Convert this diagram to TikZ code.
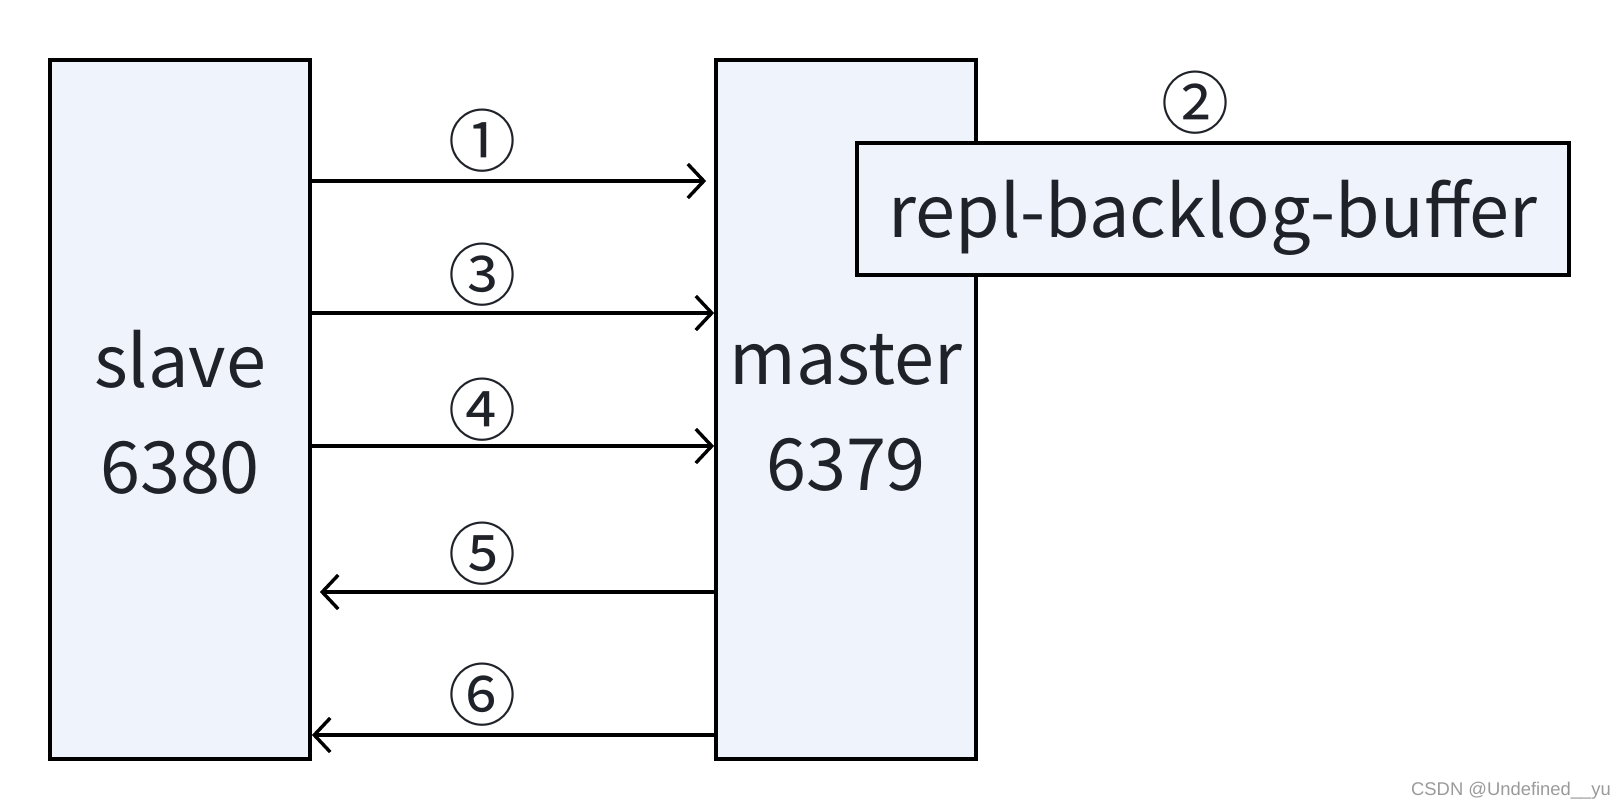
\documentclass[tikz,border=0pt]{standalone}
\usepackage{fontspec}
\setmainfont{Noto Sans CJK SC}
\newfontfamily\wmfont{Liberation Sans}
\usetikzlibrary{arrows.meta}
\definecolor{boxfill}{HTML}{EEF3FC}
\definecolor{ink}{HTML}{1F2329}
\definecolor{wmgray}{HTML}{9A9A9A}

\begin{document}
\begin{tikzpicture}
[x=0.5pt,y=-0.5pt
,srv/.style={rectangle,draw=black,fill=boxfill,line width=1.9pt,minimum width=130pt,minimum height=349.5pt,inner sep=0pt,align=center,text=ink,font=\fontsize{36}{53}\selectfont}
,buf/.style={srv,minimum width=356pt,minimum height=66pt}
,num/.style={text=ink,inner sep=0pt,font=\fontsize{34}{34}\selectfont}
,msg/.style={line width=1.7pt,arrows={-Straight Barb[length=8pt,width=17pt]}}
,wm/.style={text=wmgray,inner sep=0pt,font=\wmfont\fontsize{9.2}{10}\selectfont}]
\useasboundingbox (0,0) rectangle (1620,810);
\node[srv] (slave) at (180,409.5) {\raisebox{-1.5pt}[\height][\depth]{slave}\\\raisebox{-1.5pt}[\height][\depth]{6380}};
\node[srv] (master) at (846,409.5) {\raisebox{-1.5pt}[\height][\depth]{master}\\\raisebox{-1.5pt}[\height][\depth]{6379}};
\node[buf] (buffer) at (1213,209) {\raisebox{-4pt}[\height][\depth]{repl-backlog-buffer}};

\coordinate (r1) at (0,181);
\coordinate (r3) at (0,313);
\coordinate (r4) at (0,446);
\coordinate (r5) at (0,592);
\coordinate (r6) at (0,735);

\node[num] (c1) at (482,141) {①};
\node[num] (c2) at (1195,103) {②};
\node[num] (c3) at (482,275) {③};
\node[num] (c4) at (482,410) {④};
\node[num] (c5) at (482,554) {⑤};
\node[num] (c6) at (482,695) {⑥};

\draw[msg,shorten >=4pt] (slave.east |- r1) -- (master.west |- r1);
\draw[msg] (slave.east |- r3) -- (master.west |- r3);
\draw[msg] (slave.east |- r4) -- (master.west |- r4);
\draw[msg,shorten >=4pt] (master.west |- r5) -- (slave.east |- r5);
\draw[msg] (master.west |- r6) -- (slave.east |- r6);

\node[wm] (mark) at (1511,791) {CSDN @Undefined\_\_yu};
\end{tikzpicture}
\end{document}
